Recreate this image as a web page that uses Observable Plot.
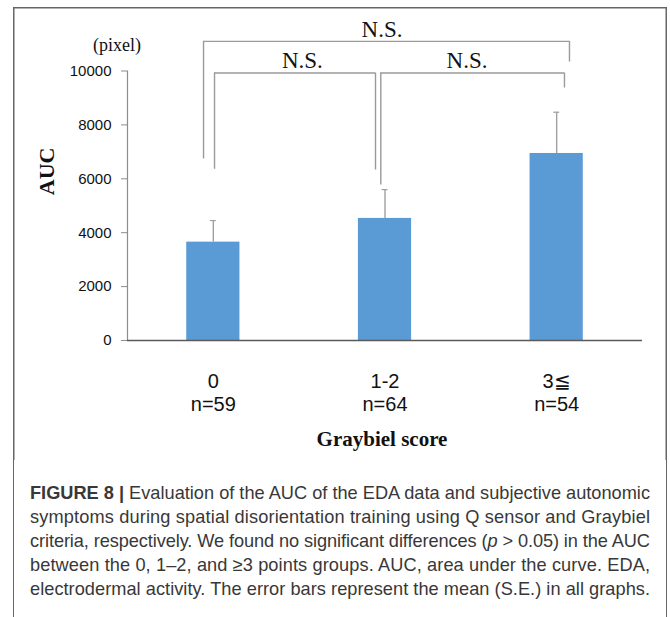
<!DOCTYPE html>
<html><head><meta charset="utf-8">
<script src="https://cdn.jsdelivr.net/npm/d3@7"></script>
<script src="https://cdn.jsdelivr.net/npm/@observablehq/plot@0.6"></script>
<style>
body{margin:0;background:#fff;width:670px;height:617px;position:relative;overflow:hidden}
#chart{position:absolute;left:0;top:0;z-index:1}
#frame{position:absolute;left:13px;top:455px;width:654px;height:200px;box-sizing:border-box;border:1.5px solid #666;border-top:none;z-index:2;pointer-events:none}
#caption{position:absolute;left:30px;top:481px;width:620px;font-family:"Liberation Sans",Arial,sans-serif;font-size:17px;line-height:24px;color:#383838;z-index:1}
.line{white-space:nowrap;display:block}
.line span.w{display:inline-block}
</style></head><body>
<div id="chart"></div>
<div id="frame"></div>
<div id="caption"></div>
<script>
// ---- data ----
const groups = ["0", "1-2", "3≦"];
const counts = [59, 64, 54];
const aucMean = [3650, 4530, 6940];
const aucSE = [800, 1070, 1530];
const yTicks = [0, 2000, 4000, 6000, 8000, 10000];
const comparisons = [
  {from: "0", to: "3≦", label: "N.S."},
  {from: "0", to: "1-2", label: "N.S."},
  {from: "1-2", to: "3≦", label: "N.S."}
];
const captionLines = [
  '<b>FIGURE 8 |</b> Evaluation of the AUC of the EDA data and subjective autonomic',
  'symptoms during spatial disorientation training using Q sensor and Graybiel',
  'criteria, respectively. We found no significant differences (<i>p</i> &gt; 0.05) in the AUC',
  'between the 0, 1–2, and ≥3 points groups. AUC, area under the curve. EDA,',
  'electrodermal activity. The error bars represent the mean (S.E.) in all graphs.'
];

// ---- layout (annotation placement, in axis units / pixels) ----
const bracketLayout = [
  {yTop: 11100, yL: 6735, yR: 10334, dxL: -9.8, dxR: 12.8, labelY: 11550, labelAt: "1-2", labelDx: -3},
  {yTop: 9925, yL: 6352, yR: 6327, dxL: 1.2, dxR: -9.5, labelY: 10380, labelAt: "0", labelDx: 89},
  {yTop: 9925, yL: 5770, yR: 9369, dxL: -4.2, dxR: 7.8, labelY: 10380, labelAt: "1-2", labelDx: 82}
];

const data = groups.map((g, i) => ({group: g, n: counts[i], auc: aucMean[i], top: aucMean[i] + aucSE[i]}));

const W = 670, H = 460, mL = 127, mR = 28, mT = 70.5, mB = 120;
const padIn = 0.69;
const step = (W - mL - mR) / groups.length;
const bw = step * (1 - padIn);
const serif = '"Liberation Serif","Times New Roman",serif';
const sans = '"Liberation Sans",Arial,sans-serif';
const bracketColor = "#9a9a9a";

const bracketMarks = comparisons.flatMap((c, i) => {
  const b = bracketLayout[i];
  return [
    Plot.ruleX([c.from], {x: d => d, y1: b.yL, y2: b.yTop, dx: b.dxL, stroke: bracketColor, strokeWidth: 1.4}),
    Plot.ruleX([c.to], {x: d => d, y1: b.yR, y2: b.yTop, dx: b.dxR, stroke: bracketColor, strokeWidth: 1.4}),
    Plot.ruleY([b.yTop], {y: d => d, x1: () => c.from, x2: () => c.to, insetLeft: bw / 2 + b.dxL, insetRight: bw / 2 - b.dxR, stroke: bracketColor, strokeWidth: 1.4}),
    Plot.text([c.label], {x: () => b.labelAt, y: () => b.labelY, dx: b.labelDx, text: d => d, fontFamily: serif, fontSize: 23, fill: "#111", lineAnchor: "middle"})
  ];
});

const chart = Plot.plot({
  width: W, height: H,
  marginLeft: mL, marginRight: mR, marginTop: mT, marginBottom: mB,
  style: {background: "transparent", overflow: "visible"},
  x: {domain: groups, paddingInner: padIn, paddingOuter: padIn / 2, round: false, axis: null},
  y: {domain: [0, 10000], axis: null},
  marks: [
    Plot.barY(data, {x: "group", y: "auc", fill: "#5B9BD5"}),
    Plot.ruleX(data, {x: "group", y1: "auc", y2: "top", stroke: "#a0a0a0", strokeWidth: 1.4}),
    Plot.tickY(data, {x: "group", y: "top", stroke: "#a0a0a0", strokeWidth: 1.2, insetLeft: bw / 2 - 3, insetRight: bw / 2 - 3}),
    Plot.frame({anchor: "left", stroke: "#8c8c8c", strokeWidth: 1.2}),
    Plot.ruleY([0], {stroke: "#5a5a5a", strokeWidth: 1.4}),
    Plot.axisY({ticks: yTicks, tickFormat: d => String(d), tickSize: 6, tickPadding: 10, fontSize: 15, fontFamily: sans, stroke: "#8c8c8c", fill: "#111", label: null}),
    Plot.text(data, {x: "group", text: d => `${d.group}\nn=${d.n}`, frameAnchor: "bottom", lineAnchor: "top", dy: 32, fontSize: 20, lineHeight: 1.12, fontFamily: sans, fill: "#111"}),
    Plot.text(["Graybiel score"], {frameAnchor: "bottom", text: d => d, dx: -3, dy: 105, fontSize: 21, fontWeight: "bold", fontFamily: serif, fill: "#111"}),
    Plot.text(["AUC"], {frameAnchor: "left", text: d => d, rotate: -90, dx: -80.5, dy: -10.5, fontSize: 22, fontWeight: "bold", fontFamily: serif, fill: "#111"}),
    Plot.text(["(pixel)"], {frameAnchor: "top-left", text: d => d, dx: -34.5, dy: -33, fontSize: 18, fontFamily: serif, fill: "#111"}),
    ...bracketMarks
  ]
});
// figure border (decoration, upper part drawn inside the svg)
d3.select(chart).append("path")
  .attr("d", "M13.75,460V7.75H666.25V460")
  .attr("fill", "none").attr("stroke", "#666").attr("stroke-width", 1.5);
document.getElementById("chart").appendChild(chart);

// ---- caption ----
const cap = document.getElementById("caption");
const spans = captionLines.map(html => {
  const div = document.createElement("div");
  div.className = "line";
  const span = document.createElement("span");
  span.className = "w";
  span.innerHTML = html;
  div.appendChild(span);
  cap.appendChild(div);
  return span;
});
// choose a font size so lines roughly fill the width, then fine-fit each line
const widths = spans.map(s => s.getBoundingClientRect().width);
const mean = widths.reduce((a, b) => a + b, 0) / widths.length;
const fs = Math.min(18.5, 17 * 618 / mean);
cap.style.fontSize = fs + "px";
spans.forEach(span => {
  const w = span.getBoundingClientRect().width;
  const n = span.textContent.length;
  span.style.letterSpacing = ((620 - w) / Math.max(1, n - 1)) + "px";
});
</script>
</body></html>
